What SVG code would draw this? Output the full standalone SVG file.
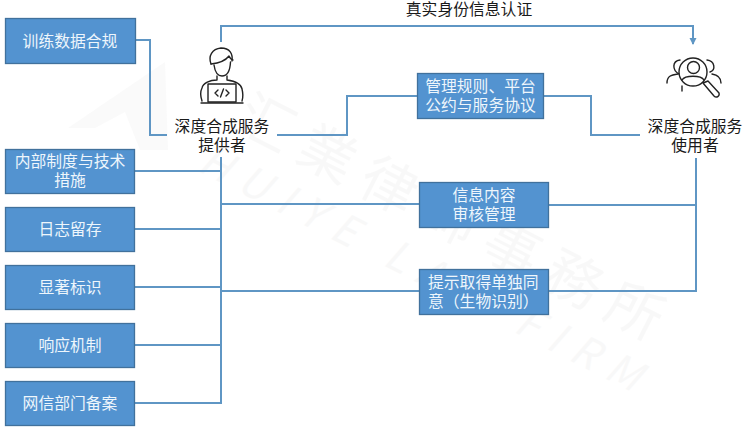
<svg xmlns="http://www.w3.org/2000/svg" width="745" height="430" viewBox="0 0 745 430">
<style>
.box{fill:#5393d0;stroke:#41719c;stroke-width:1.3}
.bt{font-family:"Noto Sans CJK SC","Liberation Sans",sans-serif;font-size:15.8px;fill:#eef6fc;text-anchor:middle}
.lb{font-family:"Noto Sans CJK SC","Liberation Sans",sans-serif;font-size:15.8px;fill:#1a1a1a;text-anchor:middle}
.c{fill:none;stroke:#5f96c4;stroke-width:2}
.ic{fill:none;stroke:#222;stroke-width:1.4;stroke-linecap:round;stroke-linejoin:round}
.wm{font-family:"Noto Sans CJK SC","Liberation Serif",serif;fill:#e4e4e4;opacity:.22}
</style>
<defs><marker id="a" markerUnits="userSpaceOnUse" markerWidth="8" markerHeight="8" refX="6" refY="4" orient="auto"><path d="M0 0.5L7 4L0 7.5z" fill="#5f96c4"/></marker></defs>
<rect width="745" height="430" fill="#fff"/>
<g id="watermark">
<path d="M68 128L165 62L168 150L140 150L125 112L95 128z" fill="#e4e4e4" opacity=".2"/>
<text class="wm" font-size="56" transform="translate(232 128) rotate(27)" textLength="470">汇業律師事務所</text>
<text class="wm" font-size="42" font-style="italic" transform="translate(196 170) rotate(27)" textLength="490">HUIYE LAW FIRM</text>
</g>
<g id="connectors">
<path class="c" d="M135.500 40H150V135H167"/>
<path class="c" d="M221 157V403H135"/>
<path class="c" d="M135 171H221M135 229H221M135 287H221M135 345H221"/>
<path class="c" d="M221 204H419M221 291H419"/>
<path class="c" d="M277 135H347V96H417"/>
<path class="c" d="M544 96H591V135H640"/>
<path class="c" d="M221 42V26H693V44" marker-end="url(#a)"/>
<path class="c" d="M696 158V291H549M549 205H696"/>
</g>
<g id="n-train"><rect class="box" x="5.500" y="18.500" width="130" height="45"/><text class="bt" x="70" y="46.500">训练数据合规</text></g>
<g id="n-rules"><rect class="box" x="5.500" y="149.500" width="129" height="44"/><text class="bt" y="167"><tspan x="70">内部制度与技术</tspan><tspan x="70" dy="19">措施</tspan></text></g>
<g id="n-log"><rect class="box" x="5.500" y="207.500" width="129" height="44"/><text class="bt" x="70" y="235">日志留存</text></g>
<g id="n-mark"><rect class="box" x="5.500" y="265.500" width="129" height="44"/><text class="bt" x="70" y="293">显著标识</text></g>
<g id="n-resp"><rect class="box" x="5.500" y="323.500" width="129" height="44"/><text class="bt" x="70" y="351">响应机制</text></g>
<g id="n-file"><rect class="box" x="5.500" y="381.500" width="129" height="44"/><text class="bt" x="70" y="409">网信部门备案</text></g>
<g id="n-mgmt"><rect class="box" x="417.500" y="73.500" width="126" height="45"/><text class="bt" y="92"><tspan x="480.500">管理规则、平台</tspan><tspan x="480.500" dy="19">公约与服务协议</tspan></text></g>
<g id="n-review"><rect class="box" x="419.500" y="182.500" width="129" height="45"/><text class="bt" y="201"><tspan x="484">信息内容</tspan><tspan x="484" dy="19">审核管理</tspan></text></g>
<g id="n-consent"><rect class="box" x="419.500" y="269.500" width="129" height="45"/><text class="bt" y="288" style="text-anchor:start"><tspan x="428">提示取得单独同</tspan><tspan x="428" dy="19">意（生物识别）</tspan></text></g>
<g id="n-provider">
<g class="ic">
<path d="M211 64C208 56 212 49 221 48C230 48 233 54 232 61"/>
<path d="M211 64C220 63 226 60 229 56C230 58 232 60 233 60"/>
<path d="M214 65C215 72 218 76 222 76C227 76 230 72 230.500 62"/>
<path d="M217 76V80C210 80 203 83 202 88C200 92 201 98 202 101M227 76V80C234 81 241 83 242 89C243 93 243 98 242 101"/>
<rect x="208" y="84" width="28" height="18"/>
<path d="M201 103H243"/>
<path d="M218 90L215 93L218 96M226 90L229 93L226 96M223.500 89L220.500 97"/>
</g>
<text class="lb" y="131.500"><tspan x="222">深度合成服务</tspan><tspan x="222" dy="19">提供者</tspan></text>
</g>
<g id="n-user">
<g class="ic">
<circle cx="693" cy="72" r="14"/><circle cx="693.500" cy="67.500" r="6"/>
<path d="M682 80C685 75 701 75 704 80"/>
<path d="M679 74C672 70 672 61 680 60M707 60C715 61 716 70 710 72"/>
<path d="M667 83C667 76 671 75 678 74M712 74C718 75 721 78 721 83M682 86V91"/>
<path d="M703 83L708 81L719 93C720 97 716 98 714 96z"/>
</g>
<text class="lb" y="131.500"><tspan x="695">深度合成服务</tspan><tspan x="695" dy="19">使用者</tspan></text>
</g>
<text class="lb" x="469" y="15">真实身份信息认证</text>
</svg>
